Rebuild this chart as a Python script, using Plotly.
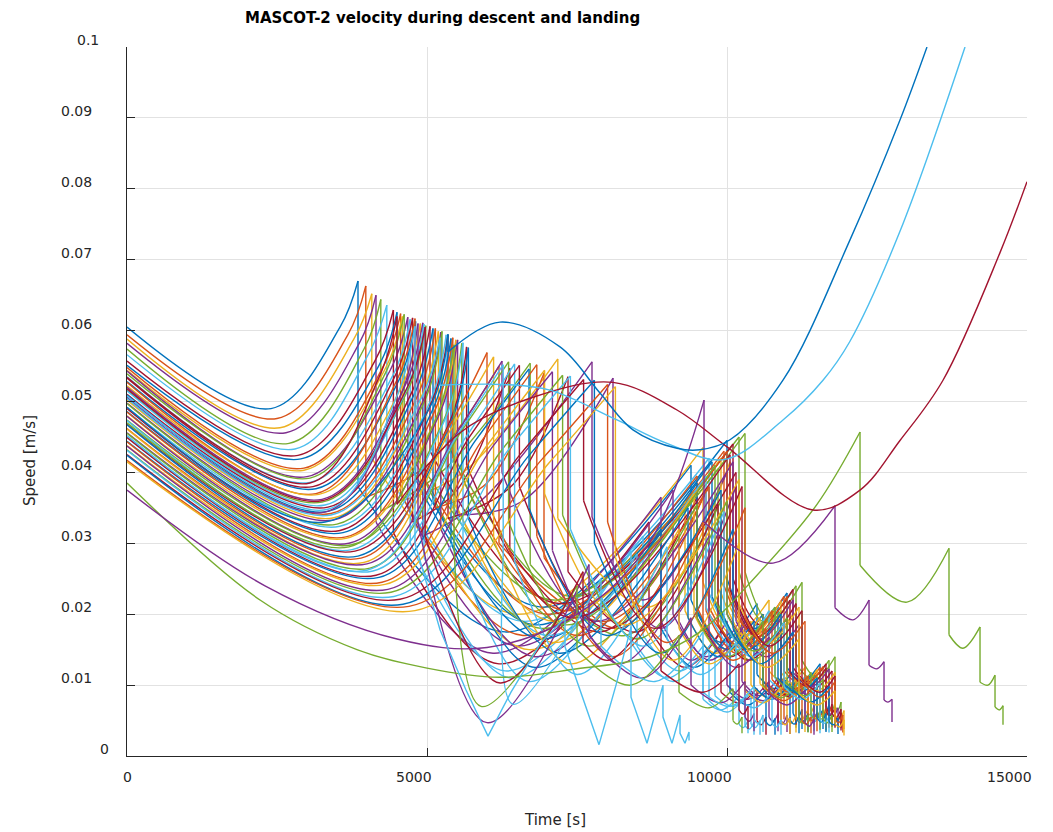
import plotly.graph_objects as go

# MATLAB default line colour order
COLORS = ["#0072BD", "#D95319", "#EDB120", "#7E2F8E", "#77AC30", "#4DBEEE", "#A2142F"]

# ---------------------------------------------------------------------------
# Monte Carlo runs of the lander. Times in s, speeds in mm/s.
# descent: (v0, t_min, v_min, t_back_at_v0, t_hit1, v_hit1)
descent = [
    (60.5, 2400, 49.0, 3550, 3850, 67.0), (59.4, 2500, 47.6, 3680, 3980, 66.3),
    (58.8, 2550, 46.3, 3780, 4080, 65.2), (58.2, 2650, 45.6, 3870, 4150, 65.0),
    (57.4, 2700, 44.1, 3950, 4230, 64.4), (56.6, 2800, 43.3, 4020, 4330, 63.6),
    (55.7, 2850, 42.4, 4130, 4440, 62.9), (55.1, 2900, 41.9, 4200, 4500, 62.6),
    (54.8, 2950, 40.6, 4260, 4560, 62.4), (54.4, 2950, 40.3, 4290, 4590, 62.0),
    (54.3, 3000, 39.4, 4380, 4680, 61.9), (53.9, 3050, 39.2, 4300, 4620, 62.3),
    (53.5, 3050, 38.6, 4420, 4720, 61.6), (53.3, 3100, 38.0, 4450, 4760, 61.8),
    (52.8, 3150, 37.7, 4520, 4810, 61.3), (52.7, 3150, 37.0, 4480, 4800, 61.7),
    (52.2, 3200, 36.9, 4580, 4890, 61.0), (52.0, 3250, 36.2, 4620, 4930, 61.1),
    (51.6, 3250, 35.8, 4680, 4980, 60.7), (51.5, 3300, 35.4, 4650, 4950, 60.9),
    (51.0, 3350, 35.1, 4730, 5050, 60.6), (50.9, 3350, 34.5, 4780, 5100, 60.3),
    (50.4, 3400, 34.2, 4820, 5140, 60.3), (50.2, 3450, 33.6, 4880, 5190, 59.9),
    (49.8, 3450, 33.3, 4920, 5230, 59.8), (49.7, 3500, 32.7, 4940, 5250, 59.9),
    (49.2, 3550, 32.4, 5010, 5320, 59.4), (49.0, 3550, 31.8, 5030, 5350, 59.4),
    (48.6, 3600, 31.5, 5080, 5400, 58.9), (48.5, 3650, 30.9, 5120, 5430, 59.0),
    (48.0, 3650, 30.7, 5170, 5480, 58.7), (47.9, 3700, 30.0, 5190, 5510, 58.7),
    (47.4, 3750, 29.8, 5280, 5580, 58.2), (47.3, 3750, 29.1, 5290, 5600, 58.3),
    (46.8, 3800, 28.9, 5360, 5660, 57.7), (46.7, 3850, 28.2, 5380, 5690, 57.6),
    (46.2, 3900, 27.9, 5350, 6000, 56.9), (46.1, 3950, 27.3, 5400, 6110, 56.3),
    (45.6, 4000, 27.1, 5500, 6250, 55.7), (45.5, 4050, 26.5, 5550, 6360, 55.6),
    (45.0, 4100, 26.1, 5650, 6460, 55.3), (44.9, 4150, 25.5, 5700, 6540, 55.1),
    (44.4, 4200, 25.2, 5800, 6700, 54.6), (44.3, 4250, 24.5, 5900, 6830, 55.2),
    (43.8, 4300, 24.2, 6000, 6960, 54.4), (43.7, 4350, 23.5, 6100, 7090, 54.2),
    (43.2, 4400, 23.1, 6250, 7260, 53.7), (43.1, 4450, 22.5, 6350, 7390, 53.6),
    (42.5, 4550, 22.1, 6550, 7610, 53.1), (42.4, 4600, 21.4, 6700, 7790, 53.0),
    (41.7, 4700, 21.1, 6900, 8010, 52.4), (41.5, 4800, 20.5, 7050, 8140, 52.1),
    (50.6, 3300, 34.4, 4550, 4850, 61.0), (47.0, 3700, 29.5, 5120, 5450, 58.0),
    (45.2, 4000, 26.2, 5500, 6270, 55.2), (51.8, 3250, 36.0, 4660, 4970, 60.5),
]

# second arc: (v_after_hit1, t_mid, v_mid, t_hit2, v_hit2)
hop2 = [
    (38.0, 6300, 17.5, 9400, 41.0), (36.5, 5000, 41.0, 6200, 55.0),
    (42.0, 6500, 20.0, 9600, 43.5), (33.0, 6100, 14.5, 8900, 36.5),
    (34.5, 5300, 40.5, 6720, 55.4), (40.0, 6600, 19.0, 9700, 42.0),
    (31.5, 6200, 13.0, 8700, 33.0), (44.0, 6900, 21.0, 10000, 44.5),
    (37.0, 6600, 17.0, 9500, 39.5), (36.0, 5600, 40.0, 7180, 56.0),
    (35.0, 6500, 15.5, 9100, 37.5), (45.0, 7100, 22.0, 10200, 45.0),
    (30.0, 6300, 12.0, 8600, 31.0), (33.0, 5500, 37.5, 6380, 54.7),
    (39.0, 6800, 18.5, 9750, 41.5), (41.5, 7000, 20.0, 9950, 43.0),
    (34.0, 6700, 15.0, 9300, 36.0), (31.0, 5900, 36.0, 7750, 55.6),
    (38.5, 6900, 18.0, 9850, 40.5), (28.0, 6400, 11.0, 8400, 29.0),
    (43.0, 7200, 21.5, 10100, 44.0), (36.0, 6900, 16.5, 9500, 38.5),
    (35.0, 6000, 38.5, 6950, 54.0), (40.0, 7100, 19.0, 9900, 42.0),
    (32.0, 6800, 14.0, 9200, 34.0), (45.5, 7400, 22.5, 10300, 45.5),
    (37.5, 7000, 17.0, 9650, 39.5), (33.5, 6400, 38.0, 7350, 53.5),
    (30.0, 6800, 12.5, 8900, 32.0), (42.0, 7300, 20.5, 10000, 43.0),
    (35.5, 7100, 16.0, 9450, 37.0), (34.0, 6600, 36.0, 8100, 53.3),
    (39.5, 7300, 18.5, 9800, 41.0), (27.0, 6700, 10.5, 8500, 28.5),
    (41.0, 7400, 19.5, 10050, 42.5), (33.5, 7200, 14.5, 9350, 35.0),
    (36.0, 7500, 17.0, 9700, 38.0), (30.5, 7400, 13.0, 9200, 32.0),
    (40.0, 7800, 19.0, 10100, 41.5), (33.0, 7700, 15.5, 9500, 35.5),
    (27.5, 7500, 11.5, 9000, 29.5), (38.0, 8000, 18.0, 10150, 40.0),
    (35.0, 8000, 17.0, 9900, 37.5), (31.0, 8100, 14.0, 9600, 33.0),
    (37.0, 8300, 18.5, 10200, 39.0), (29.0, 8200, 13.0, 9700, 31.0),
    (34.0, 8500, 16.5, 10000, 36.0), (32.0, 8600, 15.5, 9950, 34.5),
    (36.0, 8800, 18.0, 10250, 38.0), (30.0, 8900, 14.5, 10100, 32.0),
    (33.0, 9000, 16.0, 10300, 35.0), (28.0, 9100, 13.5, 10200, 30.0),
    (33.0, 6000, 4.7, 7700, 27.0), (30.0, 5900, 7.0, 7500, 24.0),
    (28.0, 6430, 7.3, 7900, 25.0), (31.0, 6217, 10.3, 7600, 26.0),
]

# third arc: (v_after_hit2, t_min, v_min, t_hit3, v_hit3)
hop3 = [
    (22.0, 9900, 16.0, 10500, 21.5), (30.0, 8000, 19.0, 9700, 38.0),
    (24.5, 10100, 17.0, 10700, 22.0), (19.0, 9400, 13.5, 10000, 19.0),
    (27.0, 8300, 17.0, 9900, 36.0), (23.0, 10200, 16.5, 10800, 21.0),
    (18.0, 9300, 12.5, 9900, 17.5), (25.0, 10450, 18.0, 11000, 23.0),
    (21.0, 10000, 15.0, 10600, 20.0), (33.5, 8700, 21.0, 10050, 41.5),
    (20.0, 9650, 14.0, 10250, 19.5), (26.0, 10600, 19.0, 11150, 24.0),
    (17.0, 9200, 12.0, 9800, 16.5), (29.0, 7900, 17.5, 9500, 36.5),
    (22.5, 10250, 16.0, 10850, 21.0), (24.0, 10400, 17.5, 10950, 22.5),
    (20.5, 9800, 14.5, 10400, 19.0), (33.7, 8600, 22.0, 10000, 40.0),
    (21.5, 10300, 15.5, 10900, 20.5), (16.0, 9000, 11.0, 9600, 15.5),
    (25.0, 10550, 18.5, 11100, 23.5), (20.5, 10000, 15.0, 10600, 20.0),
    (28.0, 8200, 18.0, 9650, 37.5), (23.0, 10350, 16.5, 10900, 21.8),
    (19.0, 9700, 13.5, 10300, 18.5), (26.0, 10700, 19.0, 11250, 24.5),
    (21.0, 10150, 15.0, 10700, 20.5), (26.0, 8500, 17.5, 9850, 35.5),
    (18.0, 9450, 12.5, 10050, 17.5), (24.0, 10450, 17.0, 11000, 22.5),
    (20.0, 9950, 14.5, 10550, 19.5), (27.0, 8900, 18.0, 10150, 38.0),
    (22.0, 10250, 16.0, 10800, 21.0), (15.5, 9100, 10.5, 9700, 15.0),
    (23.5, 10500, 16.8, 11050, 22.0), (19.5, 9850, 14.0, 10450, 19.0),
    (21.0, 10200, 15.5, 10750, 20.5), (18.0, 9700, 13.0, 10300, 17.5),
    (23.0, 10550, 16.5, 11100, 22.0), (19.5, 10000, 14.0, 10600, 19.0),
    (16.5, 9550, 11.5, 10150, 16.0), (22.0, 10600, 16.0, 11150, 21.5),
    (20.5, 10350, 15.0, 10900, 20.0), (18.5, 10100, 13.5, 10650, 18.0),
    (21.5, 10650, 15.8, 11200, 21.0), (17.0, 10150, 12.5, 10700, 16.8),
    (20.0, 10450, 14.8, 11000, 19.5), (19.0, 10400, 14.0, 10950, 18.8),
    (21.0, 10700, 15.5, 11250, 20.5), (18.0, 10550, 13.0, 11100, 17.5),
    (19.5, 10750, 14.5, 11300, 19.0), (17.0, 10650, 12.5, 11200, 16.5),
    (17.0, 8600, 11.0, 9400, 19.5), (15.0, 8400, 10.0, 9200, 17.0),
    (15.5, 8800, 10.5, 9600, 17.5), (16.0, 8017, 13.5, 8900, 22.0),
]

# fourth arc: (v_after_hit3, t_min, v_min, t_hit4, v_hit4)
hop4 = [
    (11.5, 10800, 9.5, 11100, 12.0), (20.0, 10300, 15.0, 10900, 19.5),
    (12.0, 11000, 10.0, 11300, 12.5), (10.0, 10350, 8.0, 10700, 10.5),
    (18.0, 10400, 13.5, 10950, 17.5), (11.0, 11100, 9.0, 11400, 11.5),
    (9.0, 10200, 7.5, 10500, 9.5), (12.5, 11250, 10.5, 11550, 13.0),
    (10.5, 10900, 8.5, 11200, 11.0), (21.0, 10550, 15.5, 11100, 20.0),
    (10.5, 10550, 8.5, 10850, 11.0), (13.0, 11400, 11.0, 11700, 13.5),
    (8.5, 10100, 7.0, 10400, 9.0), (19.5, 10050, 14.0, 10600, 18.5),
    (11.0, 11150, 9.0, 11450, 11.8), (12.0, 11250, 10.0, 11550, 12.5),
    (10.0, 10700, 8.2, 11000, 10.5), (20.0, 10500, 15.0, 11050, 19.0),
    (11.0, 11200, 9.2, 11500, 11.5), (8.0, 9900, 6.5, 10200, 8.5),
    (12.5, 11350, 10.5, 11650, 13.0), (10.5, 10900, 8.8, 11200, 11.2),
    (20.5, 10150, 14.5, 10700, 19.5), (11.8, 11200, 9.5, 11500, 12.2),
    (9.5, 10600, 7.8, 10900, 10.0), (13.5, 11500, 11.0, 11800, 14.0),
    (10.8, 11000, 9.0, 11300, 11.2), (18.5, 10350, 13.5, 10900, 18.0),
    (9.0, 10350, 7.2, 10650, 9.5), (12.0, 11300, 10.0, 11600, 12.6),
    (10.2, 10850, 8.5, 11150, 10.8), (19.0, 10650, 14.0, 11200, 18.5),
    (11.2, 11100, 9.2, 11400, 11.8), (7.8, 10000, 6.2, 10300, 8.2),
    (11.8, 11350, 9.8, 11650, 12.4), (9.8, 10750, 8.0, 11050, 10.2),
    (10.8, 11050, 9.0, 11350, 11.3), (9.2, 10600, 7.5, 10900, 9.7),
    (11.8, 11400, 9.8, 11700, 12.3), (10.0, 10900, 8.2, 11200, 10.5),
    (8.5, 10450, 6.8, 10750, 9.0), (11.5, 11450, 9.5, 11750, 12.0),
    (10.6, 11200, 8.8, 11500, 11.0), (9.5, 10950, 7.8, 11250, 10.0),
    (11.2, 11500, 9.2, 11800, 11.8), (8.8, 11000, 7.2, 11300, 9.3),
    (10.3, 11300, 8.5, 11600, 10.8), (9.8, 11250, 8.0, 11550, 10.3),
    (10.8, 11550, 9.0, 11800, 11.3), (9.3, 11400, 7.6, 11700, 9.8),
    (10.0, 11550, 8.3, 11800, 10.5), (8.8, 11500, 7.2, 11800, 9.2),
    (10.0, 9900, 7.5, 10300, 10.5), (9.0, 9700, 6.8, 10100, 9.5),
    (9.0, 10050, 7.0, 10450, 9.8), (12.0, 9600, 9.0, 10200, 13.0),
]

# last touchdown: (v_after_hit4, t_min, v_min, t_hit5, v_hit5, v_rest)
settle = [
    (6.0, 11170, 5.3, 11250, 6.6, 3.8), (9.5, 11020, 8.6, 11150, 10.5, 4.5),
    (6.5, 11370, 5.8, 11450, 7.0, 4.2), (5.5, 10770, 4.9, 10850, 6.0, 3.5),
    (9.0, 11050, 8.2, 11150, 10.0, 4.0), (5.5, 11470, 4.9, 11550, 6.2, 3.2),
    (5.0, 10570, 4.4, 10650, 5.5, 3.0), (6.5, 11620, 5.9, 11700, 7.2, 4.5),
    (5.5, 11270, 4.9, 11350, 6.0, 3.6), (10.0, 11220, 9.0, 11350, 11.0, 5.0),
    (5.0, 10920, 4.5, 11000, 5.8, 3.4), (7.0, 11750, 6.5, 11800, 7.5, 4.2),
    (4.5, 10470, 4.0, 10550, 5.0, 3.0), (9.5, 10720, 8.6, 10850, 10.5, 4.6),
    (6.0, 11520, 5.4, 11600, 6.5, 3.8), (6.2, 11620, 5.6, 11700, 6.8, 4.0),
    (5.2, 11070, 4.6, 11150, 5.8, 3.3), (9.8, 11170, 8.9, 11300, 10.8, 4.8),
    (5.8, 11570, 5.2, 11650, 6.4, 3.6), (4.5, 10270, 4.0, 10350, 5.0, 3.2),
    (6.8, 11700, 6.3, 11750, 7.3, 4.4), (5.5, 11270, 4.9, 11350, 6.0, 3.4),
    (10.0, 10820, 9.1, 10950, 11.0, 5.2), (6.2, 11570, 5.6, 11650, 6.8, 3.9),
    (5.0, 10970, 4.5, 11050, 5.5, 3.1), (7.0, 11850, 6.5, 11900, 7.6, 4.6),
    (5.6, 11370, 5.0, 11450, 6.2, 3.5), (9.2, 11020, 8.4, 11150, 10.0, 4.4),
    (4.8, 10720, 4.3, 10800, 5.3, 3.0), (6.4, 11670, 5.8, 11750, 7.0, 4.1),
    (5.3, 11220, 4.7, 11300, 5.9, 3.4), (9.5, 11320, 8.7, 11450, 10.3, 4.7),
    (5.8, 11470, 5.2, 11550, 6.4, 3.7), (4.3, 10370, 3.8, 10450, 4.8, 3.0),
    (6.3, 11720, 5.7, 11800, 6.8, 4.0), (5.1, 11120, 4.5, 11200, 5.6, 3.2),
    (5.6, 11420, 5.0, 11500, 6.1, 3.5), (4.9, 10970, 4.4, 11050, 5.4, 3.1),
    (6.2, 11770, 5.6, 11850, 6.8, 4.0), (5.2, 11270, 4.6, 11350, 5.7, 3.3),
    (4.6, 10820, 4.1, 10900, 5.1, 3.0), (6.0, 11820, 5.4, 11900, 6.6, 3.9),
    (5.4, 11570, 4.8, 11650, 6.0, 3.4), (5.0, 11320, 4.5, 11400, 5.5, 3.2),
    (5.8, 11870, 5.2, 11950, 6.4, 3.8), (4.7, 11370, 4.2, 11450, 5.2, 3.0),
    (5.3, 11670, 4.7, 11750, 5.8, 3.4), (5.1, 11620, 4.6, 11700, 5.6, 3.3),
    (5.6, 11850, 5.1, 11900, 6.1, 3.6), (4.9, 11770, 4.4, 11850, 5.4, 3.1),
    (5.2, 11860, 4.7, 11930, 5.8, 3.3), (4.6, 11870, 4.1, 11950, 5.1, 2.9),
    (5.5, 10370, 4.9, 10450, 6.0, 3.5), (5.0, 10170, 4.5, 10250, 5.5, 3.2),
    (5.2, 10520, 4.6, 10600, 5.8, 3.4), (6.5, 10270, 5.9, 10350, 7.0, 3.8),
]

# Individual runs that leave the main bundle (t in s, v in mm/s), one list per arc
escape_blue = [
    [(0, 49.2), (3300, 33.0), (5050, 49.2), (5350, 59.5)],
    [(5350, 59.5), (5350, 57.0)],
    [(5350, 57.0), (6217, 61.2), (7217, 57.7), (7883, 51.2), (8433, 46.0), (9167, 43.4),
     (9550, 43.2), (10050, 44.6), (10933, 53.0), (12050, 72.8), (12883, 89.7), (13333, 100.0)],
]
escape_light_blue = [
    [(0, 50.4), (3400, 34.0), (4900, 50.4), (5217, 59.0)],
    [(5217, 59.0), (5217, 52.3)],
    [(5217, 52.3), (6267, 52.4), (7050, 51.6), (8167, 47.4), (9000, 44.1), (9950, 41.8),
     (10933, 47.4), (11600, 53.0), (12050, 58.5), (12883, 74.0), (13967, 100.0)],
]
escape_red = [
    [(0, 53.4), (3050, 38.5), (4200, 53.4), (4500, 62.0)],
    [(4500, 62.0), (4500, 35.5)],
    [(4500, 35.5), (5550, 45.6), (6767, 50.6), (8100, 52.7), (9167, 48.8), (10000, 43.6),
     (11433, 34.7), (12217, 37.5), (12883, 44.5), (13600, 53.0), (14550, 71.0), (15000, 81.0)],
]
late_green = [
    [(0, 38.5), (2217, 22.0), (3833, 15.0), (5000, 12.4), (6200, 11.1), (7500, 12.3),
     (8717, 14.0), (9550, 17.5), (10500, 25.5), (11500, 35.5), (12217, 45.7)],
    [(12217, 45.7), (12217, 26.9)],
    [(12217, 26.9), (13000, 21.7), (13700, 29.3)],
    [(13700, 29.3), (13700, 17.1)],
    [(13700, 17.1), (13933, 15.2), (14217, 18.2)],
    [(14217, 18.2), (14217, 10.4)],
    [(14217, 10.4), (14350, 10.0), (14467, 11.4)],
    [(14467, 11.4), (14467, 6.9)],
    [(14467, 6.9), (14540, 6.5), (14600, 7.1)],
    [(14600, 7.1), (14600, 4.4)],
]
late_purple = [
    [(0, 37.5), (2300, 24.0), (4500, 16.5), (6000, 15.3), (7500, 20.0), (8700, 30.0), (9617, 50.2)],
    [(9617, 50.2), (9617, 33.0)],
    [(9617, 33.0), (10767, 27.2), (11800, 35.3)],
    [(11800, 35.3), (11800, 20.9)],
    [(11800, 20.9), (12100, 19.2), (12367, 22.0)],
    [(12367, 22.0), (12367, 12.8)],
    [(12367, 12.8), (12500, 12.3), (12617, 13.3)],
    [(12617, 13.3), (12617, 7.9)],
    [(12617, 7.9), (12683, 7.6), (12750, 8.0)],
    [(12750, 8.0), (12750, 4.8)],
]
skipping_descent = [(0, 50.8), (3350, 34.8), (4500, 50.8), (4800, 60.6)]
skipping_hops = [
    (4800, 60.6), (4800, 30.0), (5217, 17.8), (5650, 9.3), (6017, 2.8), (6400, 9.0),
    (6900, 16.0), (7300, 19.5), (7300, 15.4), (7600, 8.0), (7867, 1.6), (8150, 10.0),
    (8400, 18.2), (8400, 8.3), (8667, 1.8), (8933, 10.0), (8933, 5.5), (9083, 1.8),
    (9217, 5.8), (9217, 3.2), (9300, 1.8), (9367, 3.4), (9367, 2.2),
]

X_TICKS = [0, 5000, 10000, 15000]
X_TICK_TEXT = ["0", "5000", "10000", "15000"]
Y_TICKS = [0, 0.01, 0.02, 0.03, 0.04, 0.05, 0.06, 0.07, 0.08, 0.09, 0.1]
Y_TICK_TEXT = ["0", "0.01", "0.02", "0.03", "0.04", "0.05", "0.06", "0.07", "0.08", "0.09", "0.1"]

FONT = "DejaVu Sans"
INK = "#262626"
LINE_WIDTH = 1.4


def run_pieces(d, h2, h3, h4, s):
    """Split one run into arcs between touchdowns plus the vertical speed drops."""
    v0, ta, va, tk, t1, p1 = d
    pieces = [[(0, v0), (ta, va), (tk, v0), (t1, p1)]]
    t_prev, v_prev = t1, p1
    for r, tm, vm, te, pe in (h2, h3, h4):
        pieces.append([(t_prev, v_prev), (t_prev, r)])
        pieces.append([(t_prev, r), (tm, vm), (te, pe)])
        t_prev, v_prev = te, pe
    r4, tm, vm, t5, p5, r5 = s
    pieces.append([(t_prev, v_prev), (t_prev, r4)])
    pieces.append([(t_prev, r4), (tm, vm), (t5, p5)])
    pieces.append([(t5, p5), (t5, r5)])
    return pieces


def flatten(pieces):
    xs, ys = [], []
    for piece in pieces:
        for t, v in piece:
            xs.append(t)
            ys.append(v / 1000.0)  # mm/s -> m/s
        xs.append(None)
        ys.append(None)
    return xs, ys


def line_trace(pieces, color, shape="spline"):
    xs, ys = flatten(pieces)
    return go.Scatter(
        x=xs, y=ys, mode="lines", connectgaps=False,
        line=dict(color=color, width=LINE_WIDTH, shape=shape),
        hoverinfo="skip", showlegend=False,
    )


fig = go.Figure()

for i, row in enumerate(zip(descent, hop2, hop3, hop4, settle)):
    fig.add_trace(line_trace(run_pieces(*row), COLORS[i % len(COLORS)]))

fig.add_trace(line_trace(late_green, "#77AC30"))
fig.add_trace(line_trace(late_purple, "#7E2F8E"))
fig.add_trace(line_trace(escape_red, "#A2142F"))
fig.add_trace(line_trace(escape_light_blue, "#4DBEEE"))
fig.add_trace(line_trace(escape_blue, "#0072BD"))
fig.add_trace(line_trace([skipping_descent], "#4DBEEE"))
fig.add_trace(line_trace([skipping_hops], "#4DBEEE", shape="linear"))

axis_common = dict(
    showticklabels=False, ticks="inside", ticklen=8, tickwidth=1.3, tickcolor=INK,
    showline=True, linecolor=INK, linewidth=1.3, mirror=False,
    showgrid=True, gridcolor="#e2e2e2", gridwidth=1, zeroline=False,
)

annotations = []
# y tick labels (sit slightly above their ticks)
for val, txt in zip(Y_TICKS, Y_TICK_TEXT):
    right_edge = 109 if txt == "0" else (99 if txt == "0.1" else 92)
    annotations.append(dict(
        xref="paper", yref="y", x=0, y=val, text=txt, showarrow=False,
        xanchor="right", yanchor="middle", xshift=right_edge - 127 + 2, yshift=7,
        font=dict(family=FONT, size=14, color=INK),
    ))
# x tick labels
for val, txt in zip(X_TICKS, X_TICK_TEXT):
    annotations.append(dict(
        xref="x", yref="paper", x=val, y=0, text=txt, showarrow=False,
        xanchor="right", yanchor="middle", xshift=7, yshift=-21,
        font=dict(family=FONT, size=14, color=INK),
    ))
annotations += [
    dict(xref="paper", yref="paper", x=0.3511, y=1.0409, showarrow=False,
         text="<b>MASCOT-2 velocity during descent and landing</b>",
         xanchor="center", yanchor="middle", font=dict(family=FONT, size=15, color="#000000")),
    dict(xref="paper", yref="paper", x=0.4756, y=-0.0903, showarrow=False,
         text="Time [s]", xanchor="center", yanchor="middle",
         font=dict(family=FONT, size=15, color=INK)),
    dict(xref="paper", yref="paper", x=-0.1078, y=0.4175, showarrow=False,
         text="Speed [m/s]", textangle=-90, xanchor="center", yanchor="middle",
         font=dict(family=FONT, size=15, color=INK)),
]

fig.update_layout(
    width=1053, height=832, autosize=False,
    margin=dict(l=127, r=26, t=47, b=76),
    paper_bgcolor="white", plot_bgcolor="white",
    xaxis=dict(range=[0, 15000], tickvals=X_TICKS, **axis_common),
    yaxis=dict(range=[0, 0.1], tickvals=Y_TICKS, **axis_common),
    annotations=annotations,
    font=dict(family=FONT, size=14, color=INK),
)

fig.write_html("out.html")
